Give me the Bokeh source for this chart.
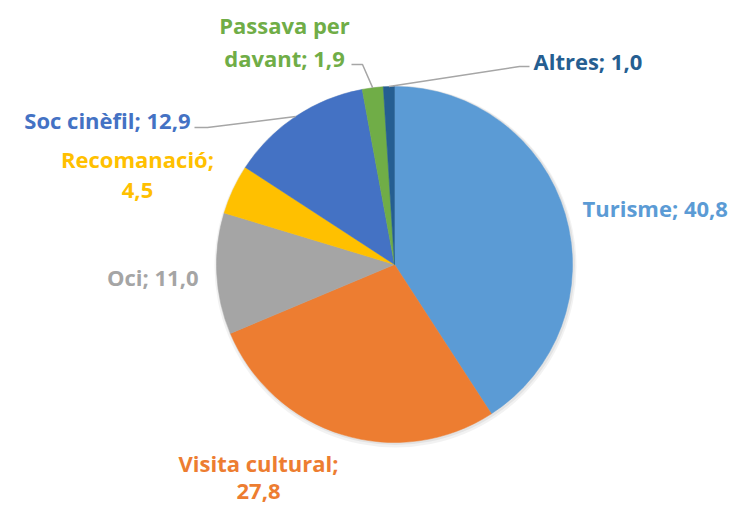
import numpy as np
from bokeh.plotting import figure
from bokeh.models import Range1d, ColumnDataSource
from bokeh.core.properties import value
from bokeh.embed import file_html
from bokeh.resources import INLINE

# ---- data ----
categories = ["Turisme", "Visita cultural", "Oci", "Recomanació", "Soc cinèfil", "Passava per davant", "Altres"]
values = [40.8, 27.8, 11.0, 4.5, 12.9, 1.9, 1.0]
label_lines = [["Turisme; 40,8"], ["Visita cultural;", "27,8"], ["Oci; 11,0"], ["Recomanació;", "4,5"],
               ["Soc cinèfil; 12,9"], ["Passava per", "davant; 1,9"], ["Altres; 1,0"]]
colors = ["#5B9BD5", "#ED7D31", "#A5A5A5", "#FFC000", "#4472C4", "#70AD47", "#255E91"]

# ---- layout (page pixel coordinates, y measured downward) ----
W, H = 737, 506
CX, CY, R = 394, 264, 178
TEXT_SHIFT = -8
label_pos = [  # (x, baseline y of first line, align, line gap)
    (582, 215, "left", 0),
    (258, 470, "center", 29),
    (198, 284, "right", 0),
    (137, 166, "center", 32),
    (190, 127, "right", 0),
    (284, 32, "center", 33),
    (533, 68, "left", 0),
]
leaders = {4: (194, 127, 207), 5: (351, 64, 362), 6: (529, 66, 519)}  # text-side anchor x,y and elbow x

def Y(y):
    return H - y

p = figure(width=W, height=H, output_backend="svg", toolbar_location=None,
           x_range=Range1d(0, W), y_range=Range1d(0, H),
           min_border=0, outline_line_color=None, background_fill_color="white",
           border_fill_color="white")
p.axis.visible = False
p.grid.visible = False

vals = np.array(values, dtype=float)
frac = vals / vals.sum()
cum_end = np.cumsum(frac)
cum_start = cum_end - frac
start = np.pi / 2 - 2 * np.pi * cum_start
end = np.pi / 2 - 2 * np.pi * cum_end
mid = (start + end) / 2

# subtle shadow
p.circle(x=[CX + 1], y=[Y(CY) - 2], radius=R + 3, fill_color="#000000", fill_alpha=0.05, line_color=None)
p.circle(x=[CX + 1], y=[Y(CY) - 1], radius=R + 1.5, fill_color="#000000", fill_alpha=0.06, line_color=None)

src = ColumnDataSource(dict(start=start, end=end, color=colors, cat=categories))
p.wedge(x=CX, y=Y(CY), radius=R, start_angle="start", end_angle="end", direction="clock",
        fill_color="color", line_color="color", line_width=0.5, source=src)

# leader lines
for i, (ax, ay, ex) in leaders.items():
    px = CX + R * np.cos(mid[i])
    py = Y(CY) + R * np.sin(mid[i])
    p.line(x=[ax, ex, px], y=[Y(ay), Y(ay), py], line_color="#A6A6A6", line_width=1.5)

# labels
for i, lines in enumerate(label_lines):
    x, y, al, gap = label_pos[i]
    for k, t in enumerate(lines):
        p.text(x=[x], y=[Y(y + k * gap + TEXT_SHIFT)], text=[t], text_align=al, text_baseline="alphabetic",
               text_font=value("Open Sans"), text_font_style="bold", text_font_size="22px",
               text_color=colors[i])

open("out.html", "w").write(file_html(p, INLINE))
